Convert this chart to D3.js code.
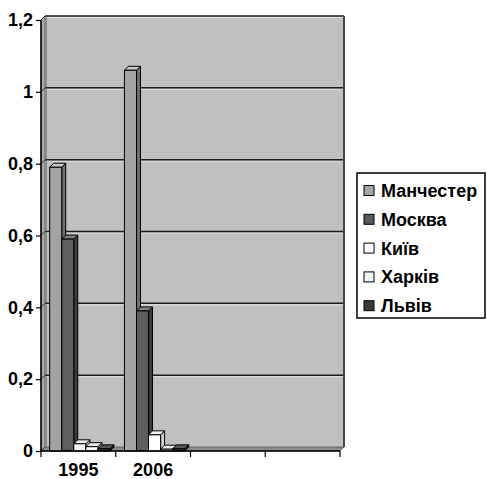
<!DOCTYPE html>
<html><head><meta charset="utf-8">
<script src="https://cdn.jsdelivr.net/npm/d3@7"></script>
<style>body{margin:0;background:#fff}svg{display:block}</style>
</head><body>
<script>
const categories = ['1995', '2006', 'c3', 'c4'];
const categoryLabels = ['1995', '2006', '', ''];
const series = ['Манчестер', 'Москва', 'Київ', 'Харків', 'Львів'];
const values1995 = [0.79, 0.59, 0.02, 0.012, 0.006];
const values2006 = [1.06, 0.39, 0.045, 0.005, 0.006];
const valuesC3 = [null, null, null, null, null];
const valuesC4 = [null, null, null, null, null];
const yTicks = [0, 0.2, 0.4, 0.6, 0.8, 1, 1.2];

const table = [values1995, values2006, valuesC3, valuesC4];
const colors = {
  'Манчестер': {front:'#a3a3a3', side:'#6e6e6e', top:'#c9c9c9', sw:'#a6a6a6'},
  'Москва':    {front:'#5e5e5e', side:'#3c3c3c', top:'#828282', sw:'#5a5a5a'},
  'Київ':      {front:'#ffffff', side:'#cfcfcf', top:'#f2f2f2', sw:'#ffffff'},
  'Харків':    {front:'#fbfbfb', side:'#c6c6c6', top:'#ececec', sw:'#f4f4f4'},
  'Львів':     {front:'#333333', side:'#1e1e1e', top:'#555555', sw:'#3a3a3a'}
};

const W = 487, H = 479, D = 4;
const svg = d3.select('body').append('svg').attr('width', W).attr('height', H);
const font = '"Liberation Sans", Arial, sans-serif';
const FS = 18;

const y = d3.scaleLinear().domain([0, 1.2]).range([451, 20]);
const x = d3.scaleBand().domain(categories).range([41, 340]).paddingInner(0);
const xs = d3.scaleBand().domain(series).range([0, x.bandwidth()]).paddingOuter(0.6).align(0.6);

const x0 = 41, x1 = 340, y0 = y(0), yTop = y(1.2);

// walls
svg.append('polygon').attr('points', [[x0, y0], [x0 + D, y0 - D], [x0 + D, yTop - D], [x0, yTop]].join(' '))
  .attr('fill', '#a9a9a9').attr('stroke', '#555').attr('stroke-width', 0.8);
svg.append('rect').attr('x', x0 + D).attr('y', yTop - D).attr('width', x1 - x0).attr('height', y0 - yTop)
  .attr('fill', '#c0c0c0');
svg.append('polygon').attr('points', [[x0, y0], [x0 + D, y0 - D], [x1 + D, y0 - D], [x1, y0]].join(' '))
  .attr('fill', '#8c8c8c').attr('stroke', '#555').attr('stroke-width', 0.8);

// gridlines
yTicks.forEach(t => {
  const yy = y(t) - D;
  if (t > 0) {
    svg.append('line').attr('x1', x0 + D).attr('x2', x1 + D).attr('y1', yy + 1.5).attr('y2', yy + 1.5)
      .attr('stroke', '#e2e2e2').attr('stroke-width', 1);
    svg.append('line').attr('x1', x0 + D).attr('x2', x1 + D).attr('y1', yy).attr('y2', yy)
      .attr('stroke', '#1a1a1a').attr('stroke-width', 1.5);
  }
  svg.append('line').attr('x1', x0).attr('x2', x0 + D).attr('y1', y(t)).attr('y2', yy)
    .attr('stroke', '#333').attr('stroke-width', 1);
});
// back wall border
svg.append('line').attr('x1', x1 + D).attr('x2', x1 + D).attr('y1', yTop - D).attr('y2', y0 - D)
  .attr('stroke', '#444').attr('stroke-width', 2);
svg.append('line').attr('x1', x0 + D).attr('x2', x1 + D).attr('y1', yTop - D).attr('y2', yTop - D)
  .attr('stroke', '#555').attr('stroke-width', 1.2);
svg.append('line').attr('x1', x0 + D + 1).attr('x2', x0 + D + 1).attr('y1', yTop - D).attr('y2', y0 - D)
  .attr('stroke', '#555').attr('stroke-width', 1);

// bars
categories.forEach((c, ci) => {
  series.forEach((s, si) => {
    const v = table[ci][si];
    if (v == null) return;
    const bx0 = x(c) + xs(s), bx1 = bx0 + xs.bandwidth();
    const by = y(v), bb = y(0);
    const col = colors[s];
    const g = svg.append('g').attr('stroke', '#000').attr('stroke-width', 1).attr('stroke-linejoin', 'round');
    g.append('polygon').attr('points', [[bx1, by], [bx1 + D, by - D], [bx1 + D, bb - D], [bx1, bb]].join(' '))
      .attr('fill', col.side);
    g.append('polygon').attr('points', [[bx0, by], [bx0 + D, by - D], [bx1 + D, by - D], [bx1, by]].join(' '))
      .attr('fill', col.top);
    g.append('rect').attr('x', bx0).attr('y', by).attr('width', bx1 - bx0).attr('height', Math.max(0.5, bb - by))
      .attr('fill', col.front);
  });
});

// axes
const yAxis = d3.axisLeft(y).tickValues(yTicks).tickSize(5).tickPadding(3)
  .tickFormat(d => String(d).replace('.', ','));
const gy = svg.append('g').attr('transform', `translate(${x0},0)`).call(yAxis);
gy.select('.domain').attr('stroke', '#000').attr('stroke-width', 1.5).attr('d', `M-0,${yTop}V${y0}`);
gy.selectAll('.tick line').attr('stroke', '#000').attr('stroke-width', 1.2);
gy.selectAll('text').attr('font-family', font).attr('font-size', FS).attr('font-weight', 'bold').attr('fill', '#000');

const xAxis = d3.axisBottom(x).tickSize(0).tickFormat((d, i) => categoryLabels[i]).tickPadding(12);
const gx = svg.append('g').attr('transform', `translate(0,${y0})`).call(xAxis);
gx.select('.domain').attr('stroke', '#000').attr('stroke-width', 1.5).attr('d', `M${x0},0H${x1}`);
gx.selectAll('text').attr('font-family', font).attr('font-size', FS).attr('font-weight', 'bold').attr('fill', '#000');
const bounds = categories.map(c => x(c)).concat([x(categories[categories.length - 1]) + x.bandwidth()]);
gx.selectAll('.bnd').data(bounds).enter().append('line').attr('class', 'bnd')
  .attr('x1', d => d).attr('x2', d => d).attr('y1', 0).attr('y2', 6).attr('stroke', '#000').attr('stroke-width', 1.2);

// legend
const lg = svg.append('g');
lg.append('rect').attr('x', 357).attr('y', 173).attr('width', 128).attr('height', 145)
  .attr('fill', '#fff').attr('stroke', '#000').attr('stroke-width', 1.5);
series.forEach((s, i) => {
  const cy = 190.5 + i * 28.8;
  lg.append('rect').attr('x', 364).attr('y', cy - 5).attr('width', 10).attr('height', 10)
    .attr('fill', colors[s].sw).attr('stroke', '#000').attr('stroke-width', 1);
  lg.append('text').attr('x', 381).attr('y', cy + 6.5).text(s)
    .attr('font-family', font).attr('font-size', FS).attr('font-weight', 'bold').attr('fill', '#000');
});
</script>
</body></html>
